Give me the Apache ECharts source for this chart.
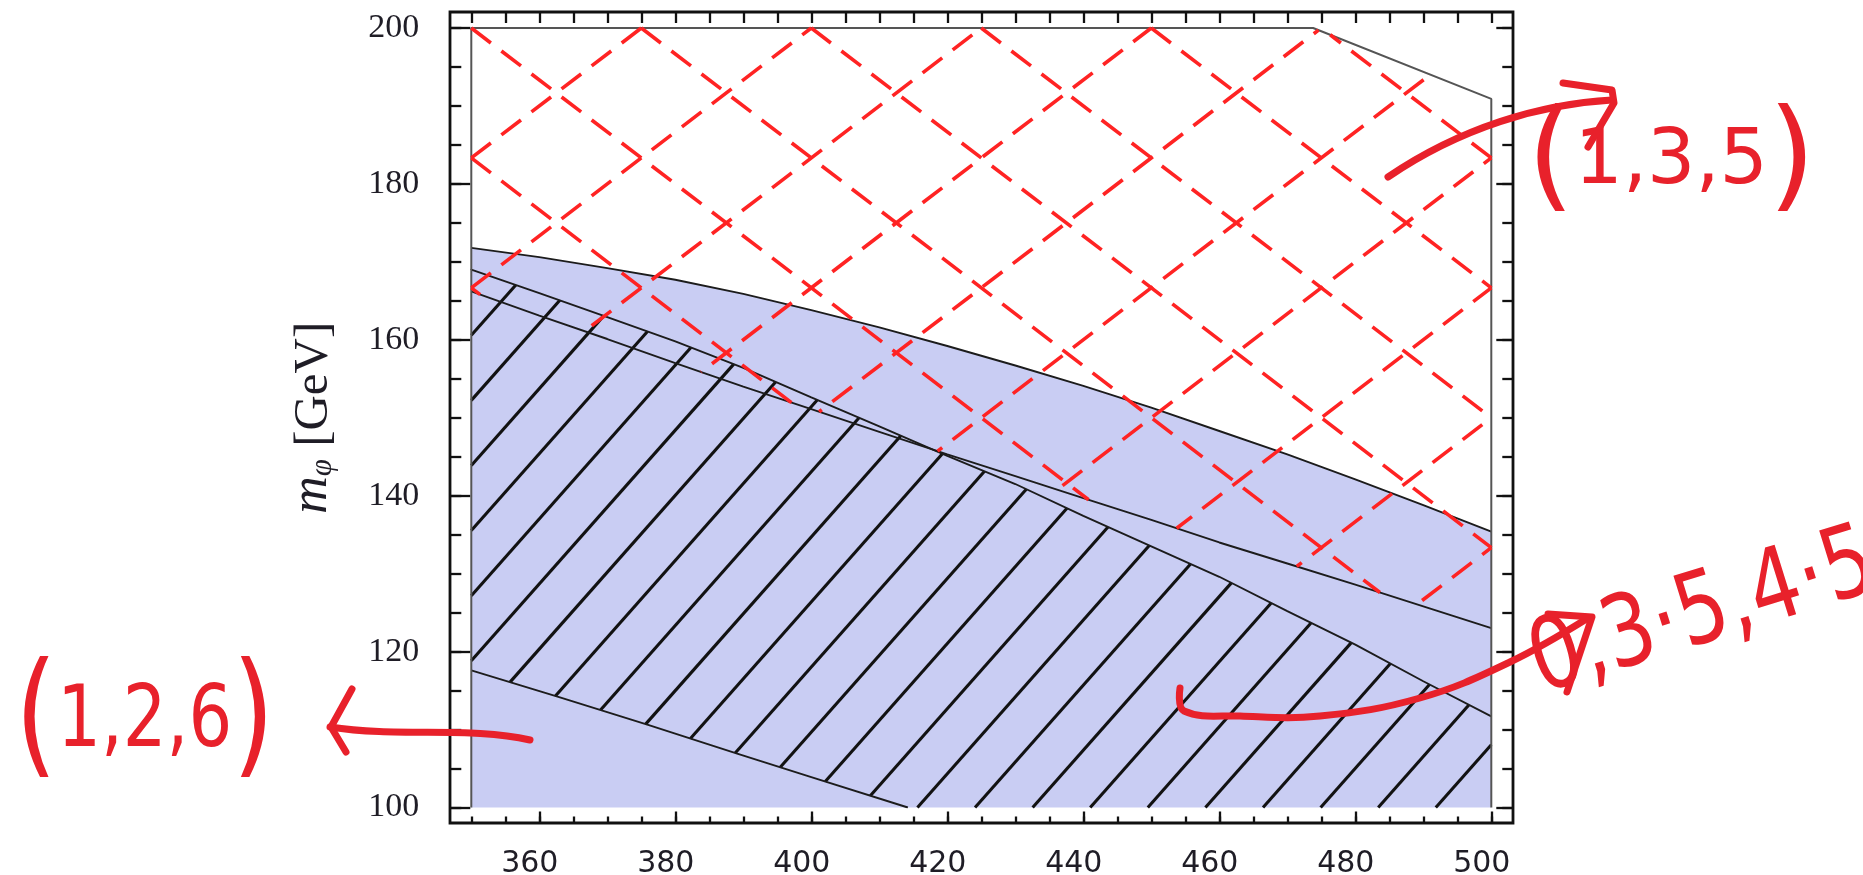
<!DOCTYPE html>
<html>
<head>
<meta charset="utf-8">
<title>m_phi exclusion regions</title>
<script src="https://cdn.jsdelivr.net/npm/echarts@6.0.0/dist/echarts.min.js"></script>
<style>
  html, body { margin: 0; padding: 0; background: #ffffff; }
  #chart { width: 1863px; height: 875px; }
</style>
</head>
<body>
<div id="chart"></div>
<script>
// ---------------- data ----------------
// sample points along the horizontal axis
const xs = [350, 360, 370, 380, 390, 400, 410, 420, 430, 440, 450, 460, 470, 480, 490, 500];
// upper edge of the shaded (blue) region
const bandTop = [171.8, 170.6, 169.2, 167.7, 165.9, 163.8, 161.6, 159.2, 156.7, 154.1, 151.3, 148.3, 145.3, 142.1, 138.8, 135.4];
// upper edge of the single-hatched region
const hatchTop = [169.0, 166.0, 162.9, 159.8, 156.4, 152.6, 148.9, 145.1, 141.5, 137.4, 133.5, 129.6, 125.2, 120.9, 116.2, 111.7];
// lower edge of the cross-hatched region
const crossBottom = [166.2, 163.1, 160.1, 157.0, 154.0, 151.1, 148.2, 145.3, 142.5, 139.7, 136.9, 134.0, 131.3, 128.6, 125.8, 123.0];
// lower edge of the single-hatched region
const hatchBottom = [[350, 117.6], [362.8, 114.2], [376.0, 110.6], [389.1, 106.9], [400.0, 103.9], [414.2, 100.0]];
// outline of the cross-hatched region
const crossOutline = [[350, 100], [350, 200], [473.8, 200], [500, 190.9], [500, 100]];
// labelled ticks
const xTickLabels = [360, 380, 400, 420, 440, 460, 480, 500];
const yTickLabels = [100, 120, 140, 160, 180, 200];

// ---------------- styling ----------------
const BLUE = '#c9cdf3';
const EDGE = '#1c1c1c';
const DASH_RED = '#ff2323';
const HAND_RED = '#e8212b';
const HAND_FONT = 'DejaVu Sans';
const LABEL = '#1f1d26';
const TICK = { color: '#111', width: 2.3 };

// single hatch: lines of slope ~1 (data units) repeating every HATCH_STEP along x
const HATCH_X0 = 474.9, HATCH_STEP = 8.47, HATCH_SLOPE = 0.986;
// diamond cross-hatch: vertices every DIAMOND_W along the top edge, slopes +-2/3
const DIAMOND_W = 25, DIAMOND_SLOPE = 2 / 3;

const pairs = arr => xs.map((x, i) => [x, arr[i]]);

// ---------------- geometry helpers ----------------
function pointInPoly(pt, poly) {
  let inside = false;
  for (let i = 0, j = poly.length - 1; i < poly.length; j = i++) {
    const xi = poly[i][0], yi = poly[i][1], xj = poly[j][0], yj = poly[j][1];
    if (((yi > pt[1]) !== (yj > pt[1])) &&
        (pt[0] < (xj - xi) * (pt[1] - yi) / (yj - yi) + xi)) inside = !inside;
  }
  return inside;
}

// parts of the infinite line a->b lying inside poly, as [t0, t1] pairs
function clipLine(poly, a, b) {
  const dx = b[0] - a[0], dy = b[1] - a[1];
  const ts = [];
  for (let i = 0; i < poly.length; i++) {
    const p = poly[i], q = poly[(i + 1) % poly.length];
    const ex = q[0] - p[0], ey = q[1] - p[1];
    const den = dx * ey - dy * ex;
    if (Math.abs(den) < 1e-12) continue;
    const wx = p[0] - a[0], wy = p[1] - a[1];
    const t = (wx * ey - wy * ex) / den;
    const u = (wx * dy - wy * dx) / den;
    if (u >= -1e-9 && u <= 1 + 1e-9) ts.push(t);
  }
  ts.sort((m, n) => m - n);
  const segs = [];
  for (let i = 0; i + 1 < ts.length; i++) {
    const t0 = ts[i], t1 = ts[i + 1];
    if (t1 - t0 < 1e-6) continue;
    const tm = (t0 + t1) / 2;
    if (pointInPoly([a[0] + dx * tm, a[1] + dy * tm], poly)) segs.push([t0, t1]);
  }
  return segs;
}

// ---------------- custom renderers ----------------
function renderHatch(params, api) {
  if (params.dataIndex !== 0) return null;
  const region = pairs(hatchTop).concat([[500, 100]], hatchBottom.slice().reverse());
  const poly = region.map(p => api.coord(p));
  const children = [];
  for (let k = -27; k <= 4; k++) {
    const x0 = HATCH_X0 + k * HATCH_STEP;
    const a = api.coord([x0, 100]);
    const b = api.coord([x0 + 10, 100 + 10 * HATCH_SLOPE]);
    clipLine(poly, a, b).forEach(([t0, t1]) => {
      children.push({
        type: 'line',
        shape: {
          x1: a[0] + (b[0] - a[0]) * t0, y1: a[1] + (b[1] - a[1]) * t0,
          x2: a[0] + (b[0] - a[0]) * t1, y2: a[1] + (b[1] - a[1]) * t1
        },
        style: { stroke: '#121212', lineWidth: 3.1, lineCap: 'butt' }
      });
    });
  }
  return { type: 'group', children };
}

function renderCross(params, api) {
  if (params.dataIndex !== 0) return null;
  const region = crossOutline.slice(1, 4).concat(pairs(crossBottom).reverse());
  const poly = region.map(p => api.coord(p));
  const dX = DIAMOND_W / 2, dY = DIAMOND_SLOPE * DIAMOND_W / 2;
  // half-edge length in pixels sets the dash rhythm
  const c0 = api.coord([350, 200]), c1 = api.coord([350 + dX, 200 - dY]);
  const half = Math.hypot(c1[0] - c0[0], c1[1] - c0[1]);
  const period = 2 * half / 5.65;
  const dash = [period * 0.65, period * 0.35];
  const children = [];

  function addLine(a, b, entry) {
    clipLine(poly, a, b).forEach(([t0, t1]) => {
      const sx = a[0] + (b[0] - a[0]) * t0, sy = a[1] + (b[1] - a[1]) * t0;
      const ex = a[0] + (b[0] - a[0]) * t1, ey = a[1] + (b[1] - a[1]) * t1;
      const off = Math.hypot(sx - entry[0], sy - entry[1]);
      children.push({
        type: 'line',
        shape: { x1: sx, y1: sy, x2: ex, y2: ey },
        style: { stroke: DASH_RED, lineWidth: 3.6, lineDash: dash, lineDashOffset: off, lineCap: 'butt' }
      });
    });
  }

  for (let k = -7; k <= 13; k++) {
    const xv = 350 + k * DIAMOND_W;
    // falling lines, drawn top-left to bottom-right
    {
      const a = api.coord([xv, 200]);
      const b = api.coord([xv + dX, 200 - dY]);
      const entry = xv >= 350 ? a : api.coord([350, 200 - DIAMOND_SLOPE * (350 - xv)]);
      addLine(a, b, entry);
    }
    // rising lines, drawn bottom-left to top-right
    {
      const a = api.coord([xv, 200]);
      const b = api.coord([xv + dX, 200 + dY]);
      const xb = xv - 100 / DIAMOND_SLOPE;
      const entry = xb >= 350 ? api.coord([xb, 100]) : api.coord([350, 200 - DIAMOND_SLOPE * (xv - 350)]);
      addLine(a, b, entry);
    }
  }
  return { type: 'group', children };
}

// ---------------- chart ----------------
const chart = echarts.init(document.getElementById('chart'), null, { renderer: 'canvas' });

const baseX = { type: 'value', min: 350, max: 500, axisLine: { show: false, onZero: false }, splitLine: { show: false } };
const baseY = { type: 'value', min: 100, max: 200, axisLine: { show: false, onZero: false }, splitLine: { show: false } };

const option = {
  animation: false,
  backgroundColor: '#ffffff',
  textStyle: { fontFamily: 'Liberation Serif' },
  grid: { left: 471.3, top: 28, width: 1020, height: 779.5, outerBoundsMode: 'none', containLabel: false },
  xAxis: [
    Object.assign({}, baseX, {
      position: 'bottom', offset: 16, interval: 5,
      axisTick: { inside: true, length: 7, lineStyle: TICK },
      axisLabel: { show: false }
    }),
    Object.assign({}, baseX, {
      position: 'bottom', offset: 16,
      axisTick: { inside: true, length: 12, customValues: xTickLabels, lineStyle: TICK },
      axisLabel: {
        customValues: xTickLabels, margin: 26, fontFamily: 'DejaVu Sans', fontSize: 30,
        color: LABEL, padding: [0, 19, 0, 0]
      }
    }),
    Object.assign({}, baseX, {
      position: 'top', offset: 16, interval: 5,
      axisTick: { inside: true, length: 11, lineStyle: TICK },
      axisLabel: { show: false }
    })
  ],
  yAxis: [
    Object.assign({}, baseY, {
      position: 'left', offset: 21, interval: 5,
      axisTick: { inside: true, length: 11, lineStyle: TICK },
      axisLabel: { show: false }
    }),
    Object.assign({}, baseY, {
      position: 'left', offset: 21,
      axisTick: { inside: true, length: 20, customValues: yTickLabels, lineStyle: TICK },
      axisLabel: {
        customValues: yTickLabels, margin: 31, fontFamily: 'Liberation Serif', fontSize: 34,
        color: LABEL, padding: [13, 0, 0, 0]
      },
      name: '{m|m}{s|φ}{n| [GeV]}',
      nameLocation: 'middle',
      nameRotate: 90,
      nameGap: 112,
      nameTextStyle: {
        color: LABEL,
        fontFamily: 'Liberation Serif',
        fontSize: 48,
        rich: {
          m: { fontFamily: 'Liberation Serif', fontStyle: 'italic', fontSize: 52, lineHeight: 58, verticalAlign: 'bottom', color: LABEL },
          s: { fontFamily: 'Liberation Serif', fontStyle: 'italic', fontSize: 31, lineHeight: 12, verticalAlign: 'bottom', color: LABEL },
          n: { fontFamily: 'Liberation Serif', fontSize: 49, lineHeight: 58, verticalAlign: 'bottom', color: LABEL }
        }
      }
    }),
    Object.assign({}, baseY, {
      position: 'right', offset: 22, interval: 5,
      axisTick: { inside: true, length: 11, lineStyle: TICK },
      axisLabel: { show: false }
    }),
    Object.assign({}, baseY, {
      position: 'right', offset: 22, interval: 20,
      axisTick: { inside: true, length: 17, lineStyle: TICK },
      axisLabel: { show: false }
    })
  ],
  series: [
    {
      name: 'band', type: 'line', xAxisIndex: 0, yAxisIndex: 0, z: 1, silent: true,
      data: pairs(bandTop), symbol: 'none',
      lineStyle: { color: EDGE, width: 1.9 },
      areaStyle: { color: BLUE, opacity: 1, origin: 'start' }
    },
    {
      name: 'hatch', type: 'custom', xAxisIndex: 0, yAxisIndex: 0, z: 2, silent: true,
      data: pairs(hatchTop), renderItem: renderHatch
    },
    {
      name: 'hatchTop', type: 'line', xAxisIndex: 0, yAxisIndex: 0, z: 3, silent: true,
      data: pairs(hatchTop), symbol: 'none', lineStyle: { color: EDGE, width: 1.9 }
    },
    {
      name: 'hatchBottom', type: 'line', xAxisIndex: 0, yAxisIndex: 0, z: 3, silent: true,
      data: hatchBottom, symbol: 'none', lineStyle: { color: EDGE, width: 1.9 }
    },
    {
      name: 'crossBottom', type: 'line', xAxisIndex: 0, yAxisIndex: 0, z: 3, silent: true,
      data: pairs(crossBottom), symbol: 'none', lineStyle: { color: EDGE, width: 1.9 }
    },
    {
      name: 'crossOutline', type: 'line', xAxisIndex: 0, yAxisIndex: 0, z: 3, silent: true,
      data: crossOutline, symbol: 'none', lineStyle: { color: '#555', width: 2 }
    },
    {
      name: 'cross', type: 'custom', xAxisIndex: 0, yAxisIndex: 0, z: 4, silent: true,
      data: pairs(crossBottom), renderItem: renderCross
    }
  ],
  graphic: [
    // plot frame
    {
      type: 'rect', z: 100, silent: true,
      shape: { x: 450, y: 12, width: 1063, height: 811 },
      style: { fill: 'none', stroke: '#111', lineWidth: 2.8 }
    },
    // hand-written notes
    {
      type: 'text', z: 110, silent: true, x: 1527, y: 163, scaleX: 1.0,
      style: {
        text: '{p|(}{d|1,3,5}{p|)}', align: 'left', verticalAlign: 'middle',
        rich: {
          p: { fontFamily: HAND_FONT, fontSize: 122, fill: HAND_RED },
          d: { fontFamily: HAND_FONT, fontSize: 76, fill: HAND_RED }
        }
      }
    },
    {
      type: 'text', z: 110, silent: true, x: 15, y: 724, scaleX: 0.8,
      style: {
        text: '{p|(}{d|1,2,6}{p|)}', align: 'left', verticalAlign: 'middle',
        rich: {
          p: { fontFamily: HAND_FONT, fontSize: 135, fill: HAND_RED },
          d: { fontFamily: HAND_FONT, fontSize: 86, fill: HAND_RED }
        }
      }
    },
    {
      type: 'text', z: 110, silent: true, x: 1548, y: 716, rotation: 0.3, scaleX: 0.8,
      style: {
        text: '0,3·5,4·5', align: 'left', verticalAlign: 'bottom',
        fontFamily: HAND_FONT, fontSize: 100, fill: HAND_RED
      }
    },
    // arrows
    {
      type: 'bezierCurve', z: 110, silent: true,
      shape: { x1: 1388, y1: 177, cpx1: 1460, cpy1: 128, cpx2: 1540, cpy2: 104, x2: 1612, y2: 100 },
      style: { fill: 'none', stroke: HAND_RED, lineWidth: 7, lineCap: 'round' }
    },
    {
      type: 'polyline', z: 110, silent: true,
      shape: { points: [[1563, 83], [1612, 90], [1614, 103], [1588, 147]] },
      style: { fill: 'none', stroke: HAND_RED, lineWidth: 7, lineCap: 'round', lineJoin: 'round' }
    },
    {
      type: 'bezierCurve', z: 110, silent: true,
      shape: { x1: 530, y1: 740, cpx1: 470, cpy1: 726, cpx2: 400, cpy2: 738, x2: 330, y2: 727 },
      style: { fill: 'none', stroke: HAND_RED, lineWidth: 7, lineCap: 'round' }
    },
    {
      type: 'polyline', z: 110, silent: true,
      shape: { points: [[352, 689], [331, 727], [346, 752]] },
      style: { fill: 'none', stroke: HAND_RED, lineWidth: 7, lineCap: 'round', lineJoin: 'round' }
    },
    {
      type: 'polyline', z: 110, silent: true,
      shape: {
        points: [[1180, 688], [1184, 711], [1240, 716], [1320, 716], [1420, 698], [1510, 662], [1588, 618]],
        smooth: 0.4
      },
      style: { fill: 'none', stroke: HAND_RED, lineWidth: 7, lineCap: 'round', lineJoin: 'round' }
    },
    {
      type: 'polyline', z: 110, silent: true,
      shape: { points: [[1548, 614], [1592, 617], [1567, 692]] },
      style: { fill: 'none', stroke: HAND_RED, lineWidth: 7, lineCap: 'round', lineJoin: 'round' }
    }
  ]
};

chart.setOption(option);
</script>
</body>
</html>
